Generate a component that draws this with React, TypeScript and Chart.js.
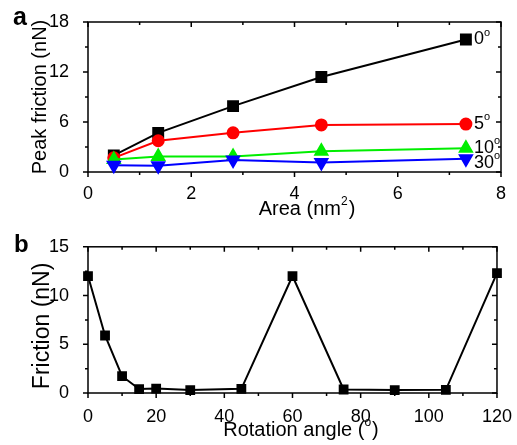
import React, { useEffect, useRef } from "react";
import { Chart, registerables } from "chart.js";

Chart.register(...registerables);

// ---------- Data ----------
const areaX = [0.5, 1.36, 2.81, 4.52, 7.32];
const friction0 = [2.0, 4.7, 7.9, 11.4, 15.9];
const friction5 = [1.7, 3.75, 4.7, 5.65, 5.75];
const friction10 = [1.5, 1.85, 1.85, 2.5, 2.85];
const friction30 = [0.8, 0.75, 1.45, 1.15, 1.6];
const seriesAngles = ["0", "5", "10", "30"];

const angleX = [0, 5, 10, 15, 20, 30, 45, 60, 75, 90, 105, 120];
const frictionByAngle = [12.0, 5.9, 1.72, 0.4, 0.45, 0.3, 0.43, 12.0, 0.36, 0.3, 0.33, 12.3];

const FONT = "'Liberation Sans', Arial, sans-serif";

type Part = { t: string; sup?: boolean };

function drawRich(
  ctx: CanvasRenderingContext2D,
  parts: Part[],
  x: number,
  y: number,
  size: number,
  align: "left" | "center",
  rotate = false
) {
  ctx.save();
  ctx.translate(x, y);
  if (rotate) ctx.rotate(-Math.PI / 2);
  ctx.fillStyle = "#000";
  ctx.textBaseline = "middle";
  ctx.textAlign = "left";
  const supSize = Math.round(size * 0.6);
  const widths = parts.map((p) => {
    ctx.font = `${p.sup ? supSize : size}px ${FONT}`;
    return ctx.measureText(p.t).width;
  });
  const total = widths.reduce((a, b) => a + b, 0);
  let cx = align === "center" ? -total / 2 : 0;
  parts.forEach((p, i) => {
    ctx.font = `${p.sup ? supSize : size}px ${FONT}`;
    ctx.fillText(p.t, cx, p.sup ? -size * 0.38 : 0);
    cx += widths[i] + (p.sup ? 1 : 0);
  });
  ctx.restore();
}

const framePlugin = {
  id: "frame",
  beforeDatasetsDraw(chart: any) {
    const { ctx, chartArea: a, scales } = chart;
    const x = scales.x;
    const y = scales.y;
    const xt: number[] = x.ticks.map((t: any) => t.value);
    const yt: number[] = y.ticks.map((t: any) => t.value);
    const mids = (arr: number[]) => arr.slice(1).map((v, i) => (v + arr[i]) / 2);
    ctx.save();
    ctx.strokeStyle = "#000";
    ctx.lineWidth = 1.5;
    ctx.strokeRect(a.left, a.top, a.right - a.left, a.bottom - a.top);
    ctx.beginPath();
    const xTick = (v: number, len: number) => {
      const p = x.getPixelForValue(v);
      ctx.moveTo(p, a.bottom);
      ctx.lineTo(p, a.bottom + len);
      ctx.moveTo(p, a.top);
      ctx.lineTo(p, a.top + len);
    };
    const yTick = (v: number, len: number) => {
      const p = y.getPixelForValue(v);
      ctx.moveTo(a.left - len, p);
      ctx.lineTo(a.left, p);
      ctx.moveTo(a.right - len, p);
      ctx.lineTo(a.right, p);
    };
    xt.forEach((v) => xTick(v, 5));
    mids(xt).forEach((v) => xTick(v, 3));
    yt.forEach((v) => yTick(v, 5));
    mids(yt).forEach((v) => yTick(v, 3));
    ctx.stroke();
    ctx.restore();
  },
};

function makeScales(xMin: number, xMax: number, xStep: number, yMin: number, yMax: number, yStep: number, xHeight: number, xPad: number) {
  return {
    x: {
      type: "linear" as const,
      min: xMin,
      max: xMax,
      grid: { display: false },
      border: { display: false },
      ticks: { stepSize: xStep, color: "#000", font: { family: FONT, size: 18 }, padding: xPad, maxRotation: 0 },
      afterFit: (s: any) => {
        s.height = xHeight;
      },
    },
    y: {
      type: "linear" as const,
      min: yMin,
      max: yMax,
      grid: { display: false },
      border: { display: false },
      ticks: { stepSize: yStep, color: "#000", font: { family: FONT, size: 18 }, padding: 11 },
      afterFit: (s: any) => {
        s.width = 88;
      },
    },
  };
}

function ChartA() {
  const ref = useRef<HTMLCanvasElement>(null);
  useEffect(() => {
    const mk = (vals: number[]) => areaX.map((x, i) => ({ x, y: vals[i] }));
    const seriesVals = [friction0, friction5, friction10, friction30];
    const labelOffsets = [0, 0, 0, 4];
    const annot = {
      id: "annotA",
      afterDraw(chart: any) {
        const { ctx, chartArea: a, scales } = chart;
        const xs = scales.x;
        const ys = scales.y;
        ctx.save();
        ctx.fillStyle = "#000";
        ctx.font = `bold 25px ${FONT}`;
        ctx.textBaseline = "alphabetic";
        ctx.textAlign = "left";
        ctx.fillText("a", 13, 25);
        ctx.restore();
        drawRich(ctx, [{ t: "Peak friction (nN)" }], 40, (a.top + a.bottom) / 2, 20, "center", true);
        drawRich(ctx, [{ t: "Area (nm" }, { t: "2", sup: true }, { t: ")" }], (a.left + a.right) / 2 + 12, 209, 20, "center");
        seriesVals.forEach((vals, i) => {
          const lx = xs.getPixelForValue(areaX[areaX.length - 1]) + 8;
          const ly = ys.getPixelForValue(vals[vals.length - 1]) + labelOffsets[i];
          drawRich(ctx, [{ t: seriesAngles[i] }, { t: "o", sup: true }], lx, ly, 18, "left");
        });
      },
    };
    const chart = new Chart(ref.current!, {
      type: "scatter",
      data: {
        datasets: [
          { data: mk(friction0), borderColor: "#000", backgroundColor: "#000", pointStyle: "rect", pointRadius: 7, borderWidth: 2, showLine: true, order: 3, clip: false },
          { data: mk(friction5), borderColor: "#ff0000", backgroundColor: "#ff0000", pointStyle: "circle", pointRadius: 5.5, borderWidth: 2, showLine: true, order: 2, clip: false },
          { data: mk(friction10), borderColor: "#00ee00", backgroundColor: "#00ee00", pointStyle: "triangle", pointRadius: 7, borderWidth: 2, showLine: true, order: 1, clip: false },
          { data: mk(friction30), borderColor: "#0000ff", backgroundColor: "#0000ff", pointStyle: "triangle", pointRotation: 180, pointRadius: 7, borderWidth: 2, showLine: true, order: 0, clip: false },
        ] as any,
      },
      options: {
        animation: false,
        responsive: false,
        maintainAspectRatio: false,
        layout: { padding: { left: 0, right: 16, top: 22, bottom: 0 } },
        plugins: { legend: { display: false }, tooltip: { enabled: false } },
        scales: makeScales(0, 8, 2, 0, 18, 6, 53, 3) as any,
      },
      plugins: [framePlugin, annot],
    });
    return () => chart.destroy();
  }, []);
  return <canvas ref={ref} width={517} height={225} style={{ display: "block" }} />;
}

function ChartB() {
  const ref = useRef<HTMLCanvasElement>(null);
  useEffect(() => {
    const annot = {
      id: "annotB",
      afterDraw(chart: any) {
        const { ctx, chartArea: a } = chart;
        ctx.save();
        ctx.fillStyle = "#000";
        ctx.font = `bold 24px ${FONT}`;
        ctx.textBaseline = "alphabetic";
        ctx.textAlign = "left";
        ctx.fillText("b", 14, 27);
        ctx.restore();
        drawRich(ctx, [{ t: "Friction (nN)" }], 43, (a.top + a.bottom) / 2 + 6, 23, "center", true);
        drawRich(ctx, [{ t: "Rotation angle (" }, { t: "o", sup: true }, { t: ")" }], (a.left + a.right) / 2 + 8, 205, 20, "center");
      },
    };
    const chart = new Chart(ref.current!, {
      type: "scatter",
      data: {
        datasets: [
          {
            data: angleX.map((x, i) => ({ x, y: frictionByAngle[i] })),
            borderColor: "#000",
            backgroundColor: "#000",
            pointStyle: "rect",
            pointRadius: 5.5,
            borderWidth: 2,
            showLine: true,
            clip: false,
          },
        ] as any,
      },
      options: {
        animation: false,
        responsive: false,
        maintainAspectRatio: false,
        layout: { padding: { left: 0, right: 16, top: 18, bottom: 0 } },
        plugins: { legend: { display: false }, tooltip: { enabled: false } },
        scales: makeScales(0, 120, 20, 0, 15, 5, 52, 5) as any,
      },
      plugins: [framePlugin, annot],
    });
    return () => chart.destroy();
  }, []);
  return <canvas ref={ref} width={517} height={220} style={{ display: "block" }} />;
}

export default function App() {
  return (
    <div style={{ position: "fixed", left: 0, top: 0, width: 517, height: 445, background: "#fff" }}>
      <ChartA />
      <ChartB />
    </div>
  );
}
